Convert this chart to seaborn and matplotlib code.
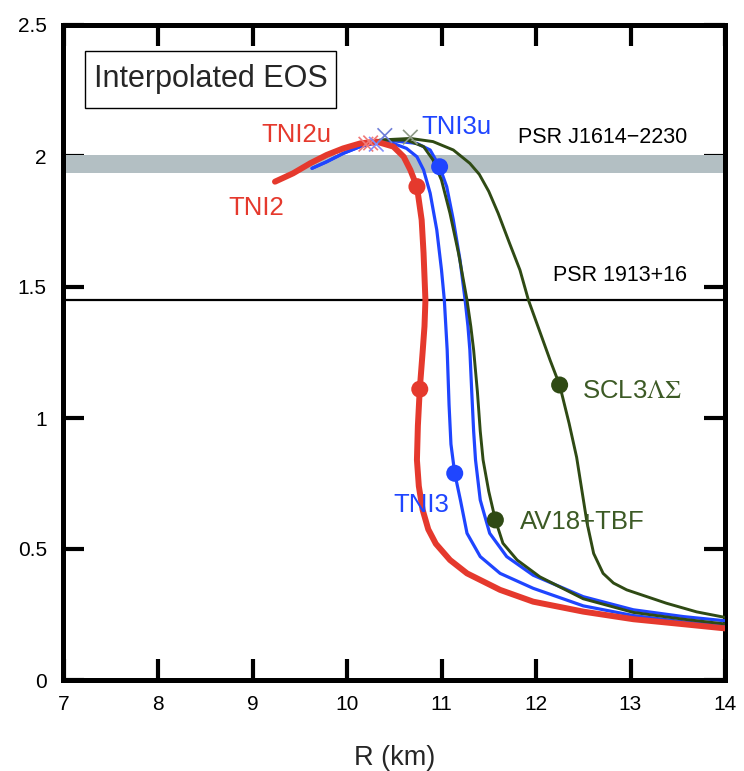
import matplotlib
matplotlib.use("Agg")
import matplotlib.pyplot as plt
from matplotlib.patches import Rectangle
import seaborn as sns
import pandas as pd

# ---------------- data ----------------
tni2_R = [9.238, 9.43, 9.61, 9.785, 9.96, 10.14, 10.31, 10.49, 10.60, 10.67, 10.74, 10.79,
          10.81, 10.83, 10.82, 10.80, 10.77, 10.75, 10.74, 10.76, 10.80, 10.86, 10.94, 11.09,
          11.27, 11.62, 11.97, 12.50, 13.03, 13.56, 14.0]
tni2_M = [1.902, 1.934, 1.972, 2.004, 2.029, 2.048, 2.055, 2.036, 1.997, 1.947, 1.883, 1.756,
          1.63, 1.45, 1.35, 1.25, 1.11, 0.97, 0.84, 0.74, 0.65, 0.575, 0.52, 0.458,
          0.407, 0.344, 0.299, 0.261, 0.232, 0.213, 0.197]

tni3_R = [9.63, 9.785, 9.96, 10.14, 10.31, 10.49, 10.63, 10.74, 10.81, 10.88, 10.95, 11.00,
          11.03, 11.06, 11.08, 11.10, 11.14, 11.20, 11.27, 11.41, 11.62, 11.97, 12.50,
          13.03, 13.56, 14.0]
tni3_M = [1.953, 1.978, 2.010, 2.036, 2.051, 2.048, 2.029, 1.997, 1.947, 1.858, 1.718, 1.565,
          1.45, 1.26, 1.05, 0.90, 0.789, 0.687, 0.56, 0.471, 0.407, 0.35, 0.283,
          0.246, 0.222, 0.207]

tni3u_R = [9.63, 9.785, 9.96, 10.14, 10.31, 10.49, 10.74, 10.88, 10.98, 11.055, 11.125,
           11.196, 11.25, 11.28, 11.30, 11.32, 11.34, 11.36, 11.41, 11.51, 11.69, 11.97,
           12.50, 13.03, 13.56, 14.0]
tni3u_M = [1.953, 1.978, 2.010, 2.036, 2.051, 2.058, 2.048, 2.023, 1.959, 1.883, 1.756,
           1.603, 1.45, 1.35, 1.26, 1.10, 0.95, 0.84, 0.687, 0.56, 0.471, 0.40,
           0.318, 0.268, 0.242, 0.226]

av18_R = [10.20, 10.35, 10.63, 10.81, 10.91, 11.00, 11.09, 11.18, 11.27, 11.31, 11.34,
          11.38, 11.41, 11.44, 11.50, 11.57, 11.65, 11.80, 12.04, 12.50, 13.03, 13.56, 14.0]
av18_M = [2.048, 2.061, 2.061, 2.036, 1.985, 1.908, 1.781, 1.629, 1.45, 1.35, 1.26,
          1.10, 0.95, 0.84, 0.72, 0.611, 0.522, 0.458, 0.394, 0.31, 0.258, 0.232, 0.214]

scl3_R = [10.20, 10.40, 10.67, 10.91, 11.125, 11.30, 11.40, 11.50, 11.60, 11.72, 11.83,
          11.92, 12.07, 12.15, 12.25, 12.35, 12.43, 12.54, 12.61, 12.71, 12.82, 12.96,
          13.38, 13.70, 14.0]
scl3_M = [2.048, 2.062, 2.067, 2.055, 2.023, 1.972, 1.93, 1.865, 1.781, 1.667, 1.565,
          1.45, 1.30, 1.22, 1.126, 0.98, 0.85, 0.60, 0.483, 0.407, 0.37, 0.344,
          0.293, 0.26, 0.239]

# dots on curves
dot_R = [10.74, 10.77, 10.98, 11.14, 11.57, 12.25]
dot_M = [1.883, 1.11, 1.959, 0.789, 0.611, 1.126]
dot_model = ["TNI2", "TNI2", "TNI3u", "TNI3", "AV18+TBF", "SCL3"]

# crosses at maxima
x_R = [10.20, 10.25, 10.31, 10.40, 10.67]
x_M = [2.045, 2.05, 2.045, 2.078, 2.072]
x_model = ["TNI2", "TNI2", "TNI3", "TNI3u", "SCL3"]

band_lo, band_hi = 1.935, 2.005
psr1913 = 1.45

x_ticks = [7, 8, 9, 10, 11, 12, 13, 14]
y_ticks = [0, 0.5, 1, 1.5, 2, 2.5]
y_ticklabels = ["0", "0.5", "1", "1.5", "2", "2.5"]

# ---------------- style ----------------
sns.set_theme(style="ticks")
plt.rcParams["font.family"] = ["Liberation Sans", "DejaVu Sans"]
plt.rcParams["mathtext.fontset"] = "stix"

RED = "#e5392d"
BLUE = "#1f45ff"
GREEN = "#2f4a14"
GREEN_T = "#3c5a25"

fig = plt.figure(figsize=(7.44, 7.71), dpi=100)
ax = fig.add_axes([63.5 / 744, 91 / 771, (725 - 63.5) / 744, 655 / 771])

ax.axhspan(band_lo, band_hi, color="#b3bfc3", lw=0, zorder=1)
ax.axhline(psr1913, color="black", lw=1.6, zorder=2)

curves = [
    ("TNI3u", tni3u_R, tni3u_M, BLUE, 2.3),
    ("TNI3", tni3_R, tni3_M, BLUE, 2.3),
    ("AV18+TBF", av18_R, av18_M, GREEN, 2.1),
    ("SCL3", scl3_R, scl3_M, GREEN, 2.1),
    ("TNI2", tni2_R, tni2_M, RED, 4.3),
]
for name, R, M, col, lw in curves:
    df = pd.DataFrame({"R": R, "M": M})
    sns.lineplot(data=df, x="R", y="M", sort=False, estimator=None,
                 color=col, lw=lw, ax=ax, zorder=3)
for ln in ax.lines:
    ln.set_solid_joinstyle("round")
    ln.set_solid_capstyle("round")

colmap = {"TNI2": RED, "TNI3": BLUE, "TNI3u": BLUE, "AV18+TBF": GREEN, "SCL3": GREEN}
ddf = pd.DataFrame({"R": dot_R, "M": dot_M, "model": dot_model})
sns.scatterplot(data=ddf, x="R", y="M", hue="model", palette=colmap, s=150,
                edgecolor="none", legend=False, ax=ax, zorder=5)

xcol = {"TNI2": "#f07a78", "TNI3": "#7f8cff", "TNI3u": "#6f7fd8", "SCL3": "#8e9a86"}
xdf = pd.DataFrame({"R": x_R, "M": x_M, "model": x_model})
sns.scatterplot(data=xdf, x="R", y="M", hue="model", palette=xcol, marker="x",
                s=110, linewidth=1.2, legend=False, ax=ax, zorder=6)

ax.set_xlim(7, 14)
ax.set_ylim(0, 2.5)
ax.set_xticks(x_ticks)
ax.set_xticklabels([str(v) for v in x_ticks])
ax.set_yticks(y_ticks)
ax.set_yticklabels(y_ticklabels)
ax.tick_params(direction="in", length=15, width=3, top=True, right=True,
               labelsize=15, pad=12, colors="black")
ax.tick_params(axis="x", labeltop=False, pad=11)
ax.tick_params(axis="y", labelright=False)
for sp in ax.spines.values():
    sp.set_linewidth(3.6)
    sp.set_color("black")
ax.set_xlabel("R (km)", fontsize=19.5, labelpad=22)
ax.set_ylabel("")

# annotation box "Interpolated EOS"
ax.add_patch(Rectangle((85 / 744, 1 - 108 / 771), (336 - 85) / 744, 57 / 771,
                       transform=fig.transFigure, fc="white", ec="black", lw=1.0, zorder=7))
ax.text(8.56, 2.292, "Interpolated EOS", fontsize=22, ha="center", va="center", zorder=8)

ax.text(13.60, 2.071, "PSR J1614\u22122230", fontsize=15.5, ha="right", va="center", color="black")
ax.text(13.60, 1.544, "PSR 1913+16", fontsize=15.5, ha="right", va="center", color="black")
ax.text(9.466, 2.080, "TNI2u", fontsize=18.5, ha="center", va="center", color=RED)
ax.text(9.04, 1.803, "TNI2", fontsize=18.5, ha="center", va="center", color=RED)
ax.text(11.16, 2.111, "TNI3u", fontsize=18.5, ha="center", va="center", color=BLUE)
ax.text(10.79, 0.668, "TNI3", fontsize=18.5, ha="center", va="center", color=BLUE)
ax.text(12.49, 0.603, "AV18+TBF", fontsize=18.5, ha="center", va="center", color=GREEN_T)
ax.text(13.02, 1.103, "SCL3$\\Lambda\\Sigma$", fontsize=18.5, ha="center", va="center", color=GREEN_T)

fig.savefig("out.png", dpi=100)
